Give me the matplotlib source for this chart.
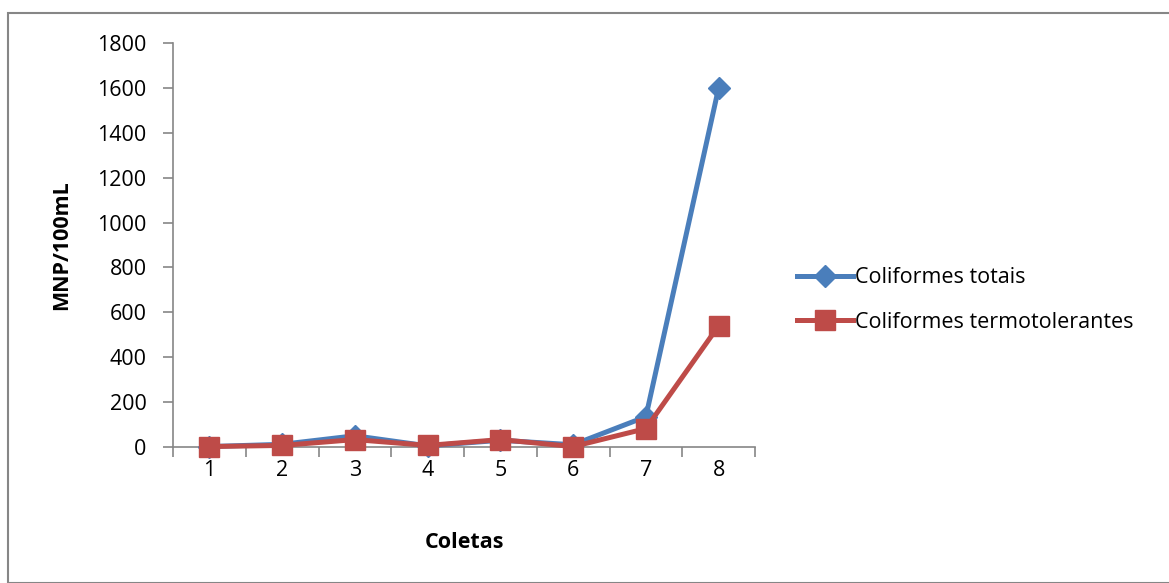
import matplotlib
matplotlib.use("Agg")
import matplotlib.pyplot as plt
from matplotlib.patches import Rectangle

coletas = [1, 2, 3, 4, 5, 6, 7, 8]
totais = [2, 12, 50, 5, 30, 10, 135, 1600]
termo = [2, 7, 33, 7, 33, 2, 82, 540]
yticks = [0, 200, 400, 600, 800, 1000, 1200, 1400, 1600, 1800]

plt.rcParams['font.family'] = ['Open Sans', 'DejaVu Sans']

fig = plt.figure(figsize=(11.69, 5.83), dpi=100)
fig.patches.append(Rectangle((8/1169, 0.0), 1 - 8/1169 + 0.01, 1 - 13/583, transform=fig.transFigure,
                             fill=False, edgecolor='#868686', linewidth=1.5))
ax = fig.add_axes([173/1169, 1 - 447/583, (755 - 173)/1169, (447 - 43)/583])

ax.plot(coletas, totais, color='#4A7EBB', lw=3.6, marker='D', markersize=11,
        label='Coliformes totais', clip_on=False, zorder=3)
ax.plot(coletas, termo, color='#BE4B48', lw=3.6, marker='s', markersize=14,
        label='Coliformes termotolerantes', clip_on=False, zorder=4)

ax.set_xlim(0.5, 8.5)
ax.set_ylim(0, 1800)
ax.set_yticks(yticks)
ax.set_xticks(coletas)
ax.set_xticks([i + 0.5 for i in range(0, 9)], minor=True)
ax.tick_params(axis='x', which='major', length=0, pad=9, labelsize=15.5)
ax.tick_params(axis='x', which='minor', length=7, color='#868686', width=1.2)
ax.tick_params(axis='y', length=7, color='#868686', width=1.2, labelsize=15.5, pad=12)
for s in ['top', 'right']:
    ax.spines[s].set_visible(False)
for s in ['left', 'bottom']:
    ax.spines[s].set_color('#868686')
    ax.spines[s].set_linewidth(1.2)

ax.set_xlabel('Coletas', fontsize=15.5, fontweight='bold', labelpad=37)
ax.set_ylabel('MNP/100mL', fontsize=15.5, fontweight='bold', labelpad=18)

ax.legend(loc='center left', bbox_to_anchor=(1.072, 0.364), frameon=False, fontsize=15.5,
          handlelength=2.6, handletextpad=0.1, labelspacing=1.1, borderaxespad=0, borderpad=0,
          markerscale=1.0)

fig.savefig('out.png', dpi=100)
